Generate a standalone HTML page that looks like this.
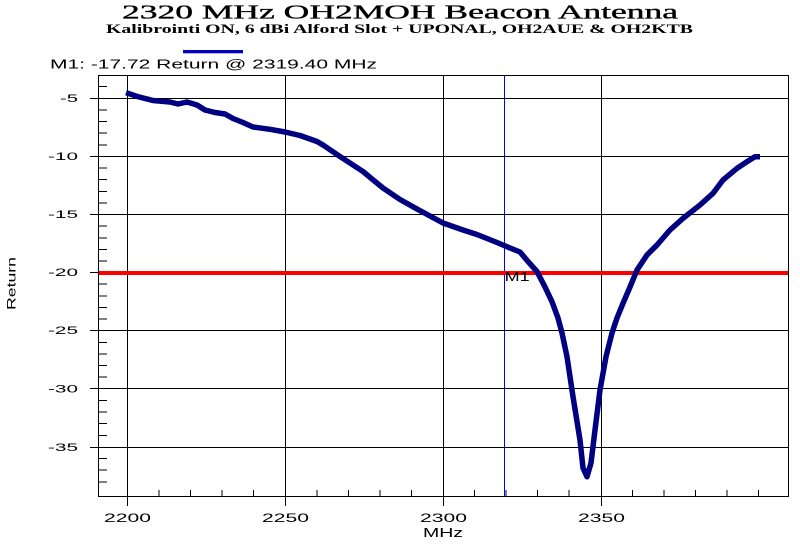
<!DOCTYPE html>
<html><head><meta charset="utf-8"><style>
html,body{margin:0;padding:0;background:#fff;}
svg{display:block;}
</style></head><body>
<svg width="800" height="550" viewBox="0 0 800 550" xmlns="http://www.w3.org/2000/svg">
<rect x="0" y="0" width="800" height="550" fill="#fff"/>
<!-- titles -->
<text x="122" y="18.5" font-family="Liberation Serif, serif" font-size="20" textLength="556" lengthAdjust="spacingAndGlyphs" fill="#000" stroke="#000" stroke-width="0.35">2320 MHz OH2MOH Beacon Antenna</text>
<text x="106" y="33" font-family="Liberation Serif, serif" font-size="12.5" font-weight="bold" textLength="587" lengthAdjust="spacingAndGlyphs" fill="#000">Kalibrointi ON, 6 dBi Alford Slot + UPONAL, OH2AUE &amp; OH2KTB</text>
<rect x="183" y="50" width="60" height="3.3" fill="#0000c0"/>
<text x="50" y="68.5" font-family="Liberation Sans, sans-serif" font-size="12.5" textLength="327" lengthAdjust="spacingAndGlyphs" fill="#000">M1: -17.72 Return @ 2319.40 MHz</text>

<g stroke="#000" stroke-width="1" shape-rendering="crispEdges" fill="none">
<!-- horizontal gridlines -->
<line x1="90" y1="98.5" x2="788" y2="98.5"/>
<line x1="90" y1="156.5" x2="788" y2="156.5"/>
<line x1="90" y1="214.5" x2="788" y2="214.5"/>
<line x1="90" y1="272.5" x2="788" y2="272.5"/>
<line x1="90" y1="330.5" x2="788" y2="330.5"/>
<line x1="90" y1="388.5" x2="788" y2="388.5"/>
<line x1="90" y1="447.5" x2="788" y2="447.5"/>
<!-- vertical gridlines -->
<line x1="127.5" y1="75" x2="127.5" y2="506"/>
<line x1="285.5" y1="75" x2="285.5" y2="506"/>
<line x1="443.5" y1="75" x2="443.5" y2="506"/>
<line x1="601.5" y1="75" x2="601.5" y2="506"/>
<!-- border -->
<rect x="98.5" y="75.5" width="690" height="421"/>
<!-- minor y ticks -->
<path d="M98 86.7h9M98 109.9h9M98 121.5h9M98 133.2h9M98 144.8h9M98 168h9M98 179.7h9M98 191.3h9M98 202.9h9M98 226.1h9M98 237.8h9M98 249.4h9M98 261h9M98 284.2h9M98 295.9h9M98 307.5h9M98 319.1h9M98 342.4h9M98 354h9M98 365.6h9M98 377.2h9M98 400.5h9M98 412.1h9M98 423.7h9M98 435.3h9M98 458.6h9M98 470.2h9M98 481.8h9"/>
<!-- minor x ticks -->
<path d="M159.1 490v6M190.6 490v6M222.2 490v6M253.7 490v6M316.8 490v6M348.4 490v6M379.9 490v6M411.5 490v6M474.6 490v6M506.1 490v6M537.7 490v6M569.2 490v6M632.4 490v6M663.9 490v6M695.5 490v6M727 490v6M758.6 490v6"/>
</g>

<!-- marker line -->
<line x1="504.5" y1="76" x2="504.5" y2="496" stroke="#0000ff" stroke-width="1" shape-rendering="crispEdges"/>
<!-- red -20 line -->
<rect x="99" y="271" width="689" height="4" fill="#ff0000"/>
<text x="504.7" y="281" font-family="Liberation Sans, sans-serif" font-size="12.5" textLength="25" lengthAdjust="spacingAndGlyphs" fill="#000">M1</text>

<!-- y labels -->
<g font-family="Liberation Sans, sans-serif" font-size="11" fill="#000">
<text x="60" y="102" textLength="18" lengthAdjust="spacingAndGlyphs">-5</text>
<text x="48" y="160" textLength="30" lengthAdjust="spacingAndGlyphs">-10</text>
<text x="48" y="218" textLength="30" lengthAdjust="spacingAndGlyphs">-15</text>
<text x="48" y="276" textLength="30" lengthAdjust="spacingAndGlyphs">-20</text>
<text x="48" y="334" textLength="30" lengthAdjust="spacingAndGlyphs">-25</text>
<text x="48" y="392.5" textLength="30" lengthAdjust="spacingAndGlyphs">-30</text>
<text x="48" y="451" textLength="30" lengthAdjust="spacingAndGlyphs">-35</text>
</g>
<!-- x labels -->
<g font-family="Liberation Sans, sans-serif" font-size="12" fill="#000">
<text x="104" y="522" textLength="47" lengthAdjust="spacingAndGlyphs">2200</text>
<text x="262" y="522" textLength="47" lengthAdjust="spacingAndGlyphs">2250</text>
<text x="420" y="522" textLength="47" lengthAdjust="spacingAndGlyphs">2300</text>
<text x="578" y="522" textLength="47" lengthAdjust="spacingAndGlyphs">2350</text>
<text x="423" y="537" font-size="13" textLength="40" lengthAdjust="spacingAndGlyphs">MHz</text>
<text transform="translate(15.5,310) rotate(-90)" font-size="12" textLength="53" lengthAdjust="spacingAndGlyphs">Return</text>
</g>

<!-- data curve -->
<polyline fill="none" stroke="#000080" stroke-width="5.5" stroke-linejoin="round" stroke-linecap="butt" points="
126,92.7 138,96.7 153,100.5 170,102 178,104 187,102 197,105 205,110 215,112.5 225,114 233,118.5 243,122.5 253,127 270,129.3 285,132 300,135.5 317,141.5 323,145 340,156.5 363,171.5 372,179 383,188 400,199.5 417,209 443,223 463,230 477,234.5 497,242.5 510,248 520,252 528,261.5 537,271.5 545,287 552,301.7 558,318 562,333 567,356.7 573,396.7 580,440 583,468 587,476.7 591,463 595,430 600,390 606,356.7 612,333 617,318 623,303.3 630,287 637,270 647,255 657,245 670,230 683,218.3 700,205 713,193.3 723,180 737,168.3 747,161.7 755,156.7 760,156.7"/>
</svg>
</body></html>
